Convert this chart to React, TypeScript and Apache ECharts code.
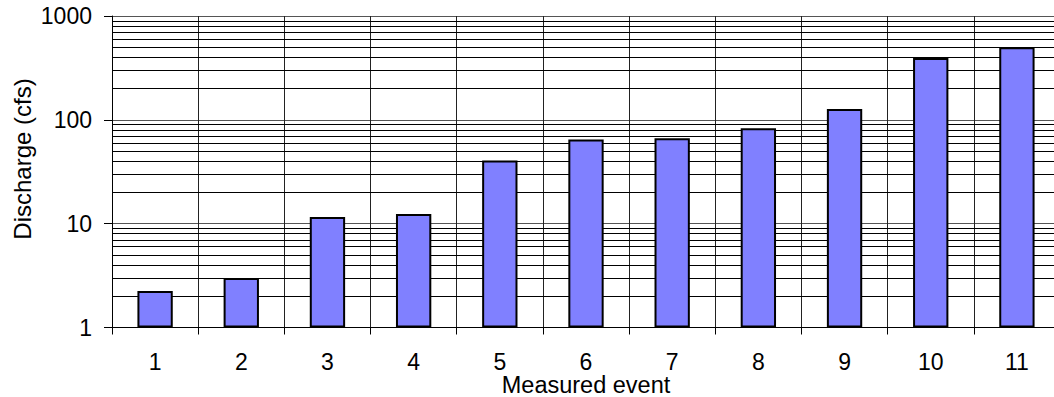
import React, { useEffect, useRef } from "react";
import * as echarts from "echarts";

const categories = ["1", "2", "3", "4", "5", "6", "7", "8", "9", "10", "11"];
const discharge = [2.25, 3.0, 11.6, 12.4, 40.6, 64.5, 66.5, 83, 127, 395, 500];
const minorGridValues = [
  2, 3, 4, 5, 6, 7, 8, 9,
  20, 30, 40, 50, 60, 70, 80, 90,
  200, 300, 400, 500, 600, 700, 800, 900,
];
const yTitle = "Discharge (cfs)";
const xTitle = "Measured event";

const FONT = "'Liberation Sans', Arial, sans-serif";

export default function App() {
  const ref = useRef<HTMLDivElement>(null);
  useEffect(() => {
    if (!ref.current) return;
    const chart = echarts.init(ref.current, null, { renderer: "svg" });
    chart.setOption({
      animation: false,
      backgroundColor: "#ffffff",
      grid: {
        left: 112,
        right: -6,
        top: 16,
        bottom: 69.5,
        containLabel: false,
        outerBoundsMode: "none",
      },
      xAxis: {
        type: "category",
        data: categories,
        boundaryGap: true,
        axisLine: { show: true, lineStyle: { color: "#000", width: 1 } },
        axisTick: { show: true, interval: 0, length: 7, lineStyle: { color: "#000" } },
        axisLabel: {
          interval: 0,
          margin: 25.5,
          fontSize: 23,
          lineHeight: 18,
          color: "#000",
          fontFamily: FONT,
        },
        splitLine: { show: true, interval: 0, lineStyle: { color: "#222", width: 1 } },
        name: xTitle,
        nameLocation: "middle",
        nameGap: 48,
        nameMoveOverlap: false,
        nameTextStyle: { fontSize: 23.5, lineHeight: 18, color: "#000", fontFamily: FONT },
      },
      yAxis: {
        type: "log",
        logBase: 10,
        min: 1,
        max: 1000,
        axisLine: { show: true, lineStyle: { color: "#000", width: 1 } },
        axisTick: { show: true, length: 8, lineStyle: { color: "#000" } },
        axisLabel: {
          margin: 20,
          fontSize: 23,
          color: "#000",
          fontFamily: FONT,
          formatter: (v: number) => String(Math.round(v)),
        },
        splitLine: { show: true, lineStyle: { color: "#555", width: 1 } },
      },
      graphic: [
        {
          type: "text",
          x: 22,
          y: 159,
          rotation: Math.PI / 2,
          style: {
            text: yTitle,
            fontSize: 24,
            fontFamily: FONT,
            fill: "#000",
            textAlign: "center",
            textVerticalAlign: "middle",
          },
        },
      ],
      series: [
        {
          type: "bar",
          data: discharge,
          barWidth: "41%",
          itemStyle: { color: "#8080FF", borderColor: "#000", borderWidth: 2 },
          markLine: {
            silent: true,
            symbol: "none",
            label: { show: false },
            lineStyle: { color: "#000", width: 1, type: "solid" },
            data: minorGridValues.map((v) => ({ yAxis: v })),
            z: 1,
          },
          z: 3,
        },
      ],
    });
    return () => chart.dispose();
  }, []);
  return (
    <div
      ref={ref}
      style={{ position: "fixed", left: 0, top: 0, width: 1054, height: 397 }}
    />
  );
}
